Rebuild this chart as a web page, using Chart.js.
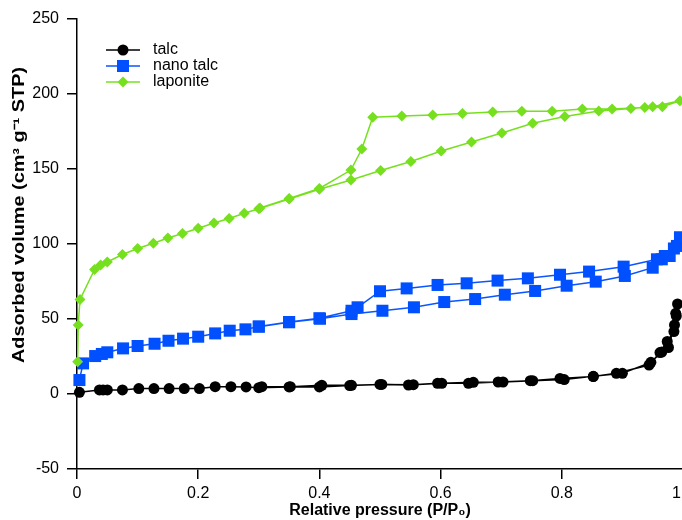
<!DOCTYPE html>
<html>
<head>
<meta charset="utf-8">
<script src="https://cdn.jsdelivr.net/npm/chart.js@4.4.1/dist/chart.umd.min.js"></script>
<style>
  html, body { margin: 0; padding: 0; background: #fff; overflow: hidden; }
  #wrap { width: 700px; height: 520px; }
</style>
</head>
<body>
<div id="wrap"><canvas id="isotherm" width="700" height="520"></canvas></div>
<script>
// relative pressure / adsorbed volume, adsorption branch then desorption branch
var talcX = [0.004, 0.037, 0.043, 0.05, 0.075, 0.102, 0.127, 0.152, 0.177, 0.202, 0.228, 0.254, 0.279, 0.3, 0.35, 0.4, 0.45, 0.5, 0.547, 0.595, 0.646, 0.695, 0.748, 0.797, 0.852, 0.89, 0.944, 0.962, 0.974, 0.985, 0.988, 0.991,
             0.989, 0.986, 0.976, 0.965, 0.947, 0.9, 0.852, 0.804, 0.752, 0.703, 0.654, 0.602, 0.555, 0.503, 0.453, 0.404, 0.352, 0.305];
var talcY = [1.1, 2.7, 2.7, 2.7, 2.7, 3.6, 3.6, 3.6, 3.6, 3.6, 4.9, 4.9, 4.7, 4.2, 4.7, 4.7, 5.6, 6.4, 6.0, 7.1, 7.1, 8.0, 8.9, 10.4, 11.6, 13.8, 19.3, 27.6, 35, 41.6, 53.8, 60,
             52, 46, 31, 28, 21.1, 13.8, 11.8, 9.6, 8.9, 8.0, 7.8, 7.1, 6.2, 6.4, 5.8, 5.8, 4.9, 4.9];

var nanoX = [0.004, 0.01, 0.03, 0.041, 0.05, 0.076, 0.1, 0.128, 0.151, 0.175, 0.2, 0.228, 0.252, 0.278, 0.3, 0.35, 0.401, 0.453, 0.504, 0.556, 0.606, 0.657, 0.706, 0.756, 0.808, 0.856, 0.904, 0.95, 0.965, 0.978, 0.99, 0.995,
             0.985, 0.97, 0.957, 0.902, 0.845, 0.797, 0.744, 0.694, 0.643, 0.595, 0.544, 0.5, 0.463, 0.453, 0.4, 0.35, 0.3];
var nanoY = [9.3, 20.4, 25.3, 26.7, 27.8, 30.4, 32, 33.5, 35.5, 36.9, 38.2, 40.4, 42.2, 43.1, 44.9, 47.8, 50.2, 53.3, 55.5, 57.8, 61.3, 63.3, 66.2, 68.7, 72.2, 74.9, 78.7, 84.2, 89.8, 92, 98.7, 104.5,
             97, 92, 89.8, 84.9, 81.6, 79.5, 77.1, 75.6, 73.8, 72.7, 70.4, 68.5, 57.8, 55.5, 50.5, 48, 45];

var lapX = [0.001, 0.002, 0.005, 0.029, 0.039, 0.05, 0.075, 0.1, 0.126, 0.15, 0.174, 0.2, 0.226, 0.251, 0.276, 0.3, 0.35, 0.4, 0.452, 0.501, 0.551, 0.601, 0.651, 0.701, 0.752, 0.805, 0.861, 0.914, 0.95, 0.995,
            0.966, 0.937, 0.883, 0.834, 0.784, 0.734, 0.686, 0.636, 0.587, 0.536, 0.488, 0.47, 0.452, 0.4, 0.35, 0.302];
var lapY = [21.5, 46, 63, 83, 86, 88, 93, 97, 100.5, 104, 107, 110.5, 114, 117, 120.5, 123.5, 130, 136.5, 142.7, 149, 155, 162, 168, 174, 180.5, 185, 188.7, 190.3, 191.5, 195.5,
            191.5, 191, 190, 190, 188.5, 188.5, 188, 187, 186, 185.3, 184.5, 163.3, 149.3, 137, 130.3, 124];

var xTicks = [0, 0.2, 0.4, 0.6, 0.8, 1];
var yTicks = [-50, 0, 50, 100, 150, 200, 250];
var yTitle = 'Adsorbed volume (cm\u00b3 g\u207b\u00b9 STP)';

function toPoints(xs, ys) {
    return xs.map(function (x, i) { return { x: x, y: ys[i] }; });
}

var FONT = "'Liberation Sans', Arial, Helvetica, sans-serif";

// legend with a short line and the marker on it, like the original figure
var lineLegend = {
    id: 'lineLegend',
    afterDraw: function (chart) {
        var ctx = chart.ctx;
        var area = chart.chartArea;
        chart.data.datasets.forEach(function (ds, i) {
            var y = area.top + 31 + i * 16;
            var x0 = area.left + 29, x1 = area.left + 63, xm = (x0 + x1) / 2;
            ctx.save();
            ctx.strokeStyle = ds.borderColor;
            ctx.lineWidth = ds.borderWidth;
            ctx.beginPath();
            ctx.moveTo(x0, y);
            ctx.lineTo(x1, y);
            ctx.stroke();
            ctx.fillStyle = ds.pointBackgroundColor;
            ctx.beginPath();
            var r = ds.pointRadius;
            if (ds.pointStyle === 'circle') {
                ctx.arc(xm, y, r, 0, Math.PI * 2);
            } else if (ds.pointStyle === 'rect') {
                var s = r * Math.SQRT1_2;
                ctx.rect(xm - s, y - s, 2 * s, 2 * s);
            } else {
                ctx.moveTo(xm, y - r);
                ctx.lineTo(xm + r, y);
                ctx.lineTo(xm, y + r);
                ctx.lineTo(xm - r, y);
                ctx.closePath();
            }
            ctx.fill();
            ctx.fillStyle = '#000';
            ctx.font = '16px ' + FONT;
            ctx.textBaseline = 'middle';
            ctx.fillText(ds.label, area.left + 76, y);
            ctx.restore();
        });

        // y axis title: the original is drawn a bit stretched and sits above the axis middle
        ctx.save();
        ctx.translate(20, 215);
        ctx.rotate(-Math.PI / 2);
        ctx.scale(1.24, 1);
        ctx.font = 'bold 16px ' + FONT;
        ctx.fillStyle = '#000';
        ctx.textAlign = 'center';
        ctx.textBaseline = 'middle';
        ctx.fillText(yTitle, 0, 0);
        ctx.restore();
    }
};

var ctx = document.getElementById('isotherm').getContext('2d');
var chart = new Chart(ctx, {
    type: 'scatter',
    data: {
        datasets: [
            {
                label: 'talc',
                data: toPoints(talcX, talcY),
                showLine: true,
                borderColor: '#000000',
                backgroundColor: '#000000',
                pointBackgroundColor: '#000000',
                borderWidth: 1.5,
                pointStyle: 'circle',
                pointRadius: 5.5,
                pointBorderWidth: 0,
                order: 2
            },
            {
                label: 'nano talc',
                data: toPoints(nanoX, nanoY),
                showLine: true,
                borderColor: '#0a55ff',
                backgroundColor: '#0050ff',
                pointBackgroundColor: '#0050ff',
                borderWidth: 1.5,
                pointStyle: 'rect',
                pointRadius: 8.5,
                pointBorderWidth: 0,
                order: 3
            },
            {
                label: 'laponite',
                data: toPoints(lapX, lapY),
                showLine: true,
                borderColor: '#76e01f',
                backgroundColor: '#76e01f',
                pointBackgroundColor: '#76e01f',
                borderWidth: 1.5,
                pointStyle: 'rectRot',
                pointRadius: 5.5,
                pointBorderWidth: 0,
                order: 1
            }
        ]
    },
    options: {
        responsive: false,
        animation: false,
        devicePixelRatio: 1,
        clip: false,
        layout: { padding: { top: 19, right: 17, bottom: 0, left: 0 } },
        plugins: {
            legend: { display: false },
            tooltip: { enabled: false }
        },
        elements: { line: { tension: 0 } },
        scales: {
            x: {
                type: 'linear',
                min: 0,
                max: 1,
                afterBuildTicks: function (scale) {
                    scale.ticks = xTicks.map(function (v) { return { value: v }; });
                },
                afterFit: function (scale) { scale.height = 51; },
                grid: { drawOnChartArea: false, drawTicks: true, tickLength: 10, color: '#000', lineWidth: 1.5 },
                border: { display: true, color: '#000', width: 1.5 },
                ticks: { color: '#000', font: { family: FONT, size: 16 }, padding: 5, maxRotation: 0 },
                title: {
                    display: true,
                    text: 'Relative pressure (P/P\u2080)',
                    color: '#000',
                    font: { family: FONT, size: 16, weight: 'bold' },
                    padding: { top: 0, bottom: 0 }
                }
            },
            y: {
                type: 'linear',
                min: -50,
                max: 250,
                afterBuildTicks: function (scale) {
                    scale.ticks = yTicks.map(function (v) { return { value: v }; });
                },
                afterFit: function (scale) { scale.width = 77; },
                grid: { drawOnChartArea: false, drawTicks: true, tickLength: 10, color: '#000', lineWidth: 1.5 },
                border: { display: true, color: '#000', width: 1.5 },
                ticks: { color: '#000', font: { family: FONT, size: 16 }, padding: 8 },
                title: { display: false }
            }
        }
    },
    plugins: [lineLegend]
});
</script>
</body>
</html>
